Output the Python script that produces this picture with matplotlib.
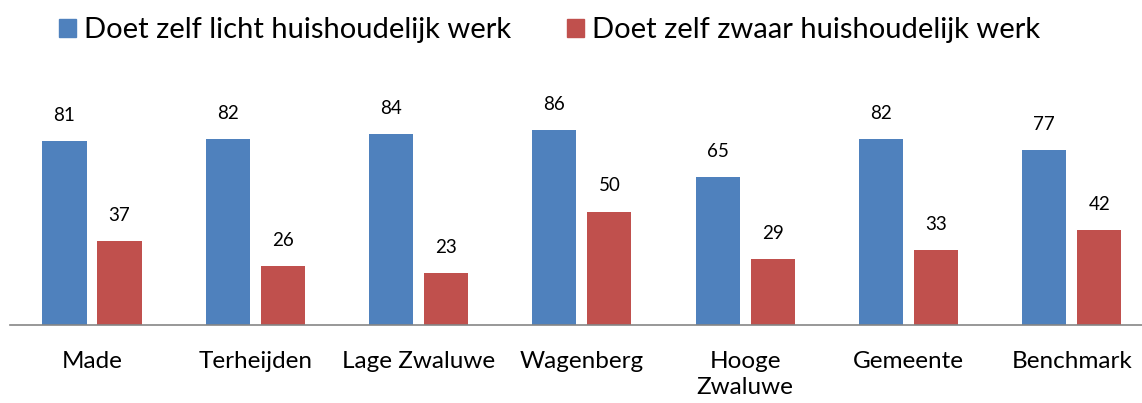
import matplotlib
matplotlib.use("Agg")
import matplotlib.pyplot as plt
import numpy as np
from matplotlib.patches import Patch

categories = ["Made", "Terheijden", "Lage Zwaluwe", "Wagenberg", "Hooge\nZwaluwe", "Gemeente", "Benchmark"]
licht = [81, 82, 84, 86, 65, 82, 77]
zwaar = [37, 26, 23, 50, 29, 33, 42]
series_names = ["Doet zelf licht huishoudelijk werk", "Doet zelf zwaar huishoudelijk werk"]

plt.rcParams['font.family'] = ['Lato', 'DejaVu Sans']
blue = "#4F81BD"
red = "#C0504D"

W, H = 1142, 403
fig = plt.figure(figsize=(W/100, H/100), dpi=100)
step = 163.3
left_px = 92 - step/2
ax = fig.add_axes([left_px/W, (H-325)/H, 7*step/W, (325-98)/H])

x = np.arange(len(categories))
w = 0.27
gap = 0.067
b1 = ax.bar(x - (w + gap)/2, licht, w, color=blue)
b2 = ax.bar(x + (w + gap)/2, zwaar, w, color=red)
for bars in (b1, b2):
    for r in bars:
        ax.text(r.get_x() + r.get_width()/2, r.get_height() + 7.5, f"{int(r.get_height())}",
                ha="center", va="bottom", fontsize=13.5)

ax.set_xlim(-0.5, len(categories) - 0.5)
ax.set_ylim(0, 100)
ax.set_yticks([])
ax.set_xticks(x)
ax.set_xticklabels(categories, fontsize=17.5, linespacing=1.3)
ax.tick_params(axis='x', length=0, pad=19)
for s in ["top", "right", "left"]:
    ax.spines[s].set_visible(False)
ax.spines["bottom"].set_color("#868686")
ax.spines["bottom"].set_linewidth(1.2)

handles = [Patch(color=blue), Patch(color=red)]
fig.legend(handles, series_names, loc="upper left", bbox_to_anchor=(59/W, 1 - 17/H), ncol=2,
           frameon=False, fontsize=21, handlelength=0.59, handleheight=0.59,
           handletextpad=0.28, columnspacing=1.9, borderaxespad=0, borderpad=0)

fig.savefig("out.png", dpi=100)
